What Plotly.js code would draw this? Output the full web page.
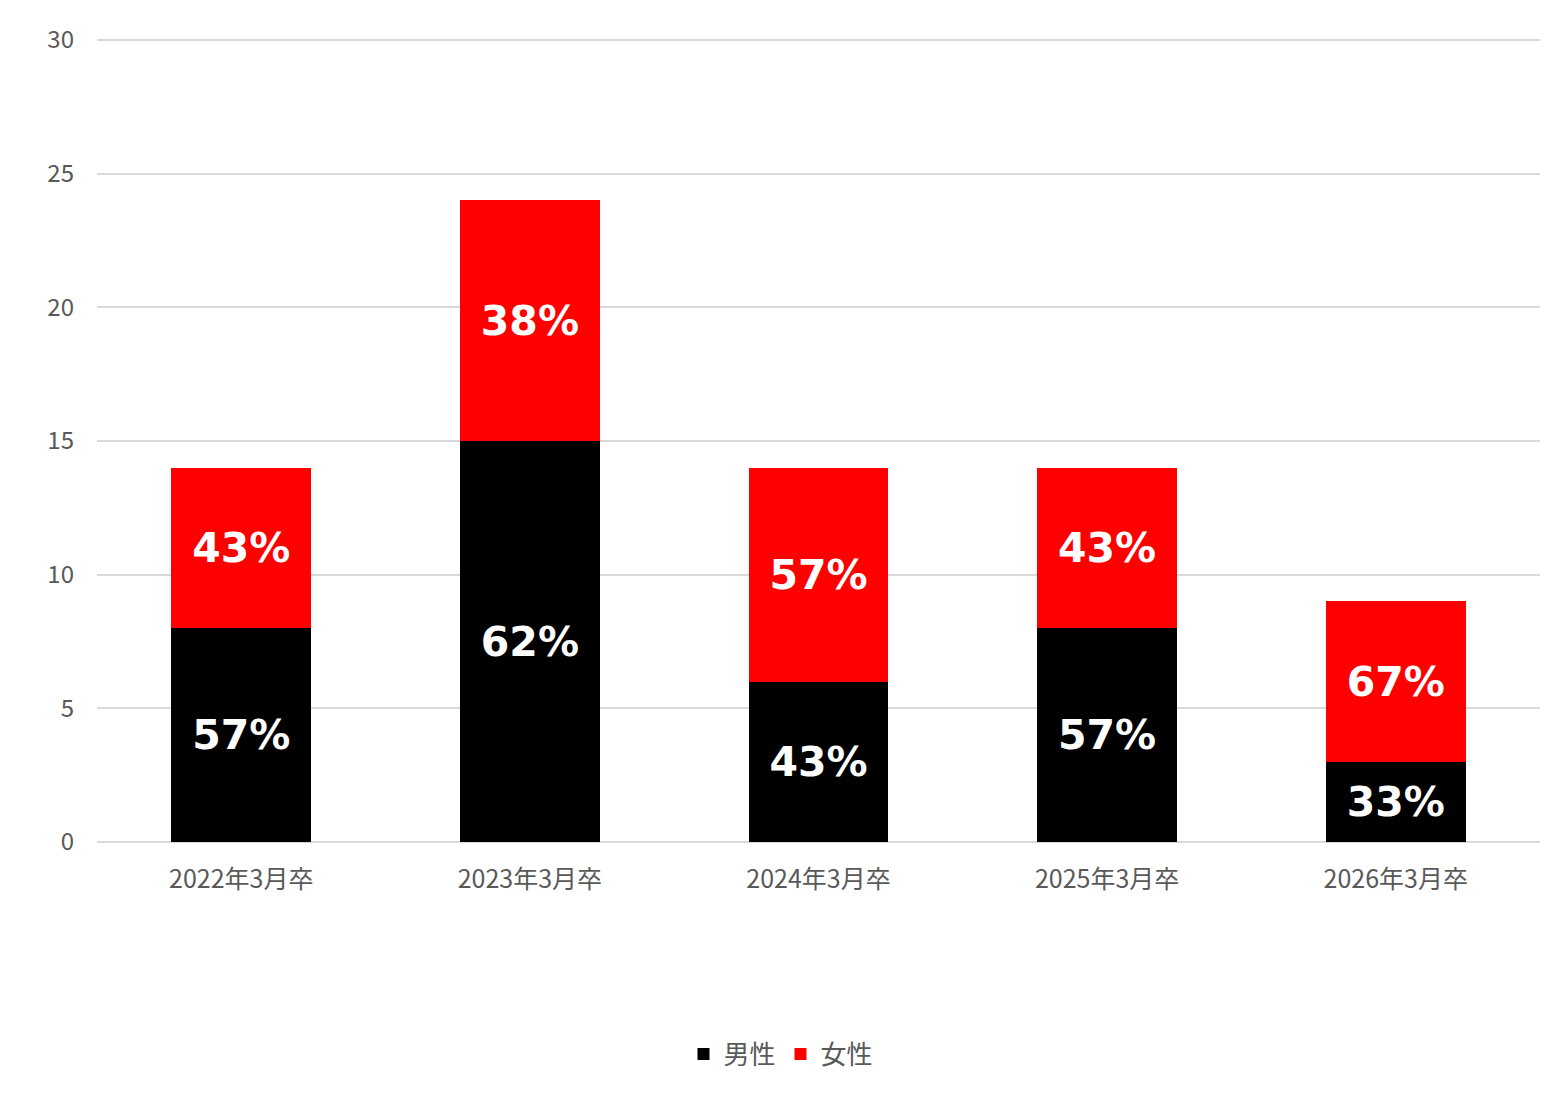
<!DOCTYPE html>
<html>
<head>
<meta charset="utf-8">
<script src="https://cdn.plot.ly/plotly-3.0.1.min.js"></script>
<style>
  html, body { margin: 0; padding: 0; background: #fff; }
  #plot { width: 1562px; height: 1114px; }
</style>
</head>
<body>
<div id="plot"></div>
<script>
const categories = ['2022年3月卒', '2023年3月卒', '2024年3月卒', '2025年3月卒', '2026年3月卒'];
const maleCounts = [8, 15, 6, 8, 3];
const femaleCounts = [6, 9, 8, 6, 6];
const maleLabels = ['57%', '62%', '43%', '57%', '33%'];
const femaleLabels = ['43%', '38%', '57%', '43%', '67%'];

const labelFont = { family: 'DejaVu Sans', size: 41, color: '#ffffff', weight: 'bold' };

const male = {
  x: categories,
  y: maleCounts,
  name: '男性',
  type: 'bar',
  marker: { color: '#000000' },
  text: maleLabels,
  textposition: 'inside',
  insidetextanchor: 'middle',
  textfont: labelFont,
  hoverinfo: 'none',
};

const female = {
  x: categories,
  y: femaleCounts,
  name: '女性',
  type: 'bar',
  marker: { color: '#ff0000' },
  text: femaleLabels,
  textposition: 'inside',
  insidetextanchor: 'middle',
  textfont: labelFont,
  hoverinfo: 'none',
};

const layout = {
  width: 1562,
  height: 1114,
  barmode: 'stack',
  bargap: 0.515,
  margin: { l: 97, r: 22, t: 39, b: 272 },
  paper_bgcolor: '#ffffff',
  plot_bgcolor: '#ffffff',
  font: { family: '"Noto Sans CJK JP", "Noto Sans", sans-serif', color: '#595959' },
  xaxis: {
    type: 'category',
    showgrid: false,
    showline: false,
    ticks: '',
    tickfont: { size: 25, color: '#595959' },
    ticklabelstandoff: 20,
  },
  yaxis: {
    range: [0, 30.04],
    dtick: 5,
    showgrid: true,
    gridcolor: '#d9d9d9',
    gridwidth: 2,
    zeroline: true,
    zerolinecolor: '#d9d9d9',
    zerolinewidth: 2,
    showline: false,
    ticks: '',
    tickfont: { size: 24, color: '#595959' },
    ticklabelstandoff: 22,
  },
  showlegend: true,
  legend: {
    orientation: 'h',
    x: 0.474,
    xanchor: 'center',
    y: -0.264,
    yanchor: 'middle',
    font: { size: 26, color: '#595959' },
    itemwidth: 30,
    traceorder: 'normal',
  },
};

Plotly.newPlot('plot', [male, female], layout, { staticPlot: true });
</script>
</body>
</html>
